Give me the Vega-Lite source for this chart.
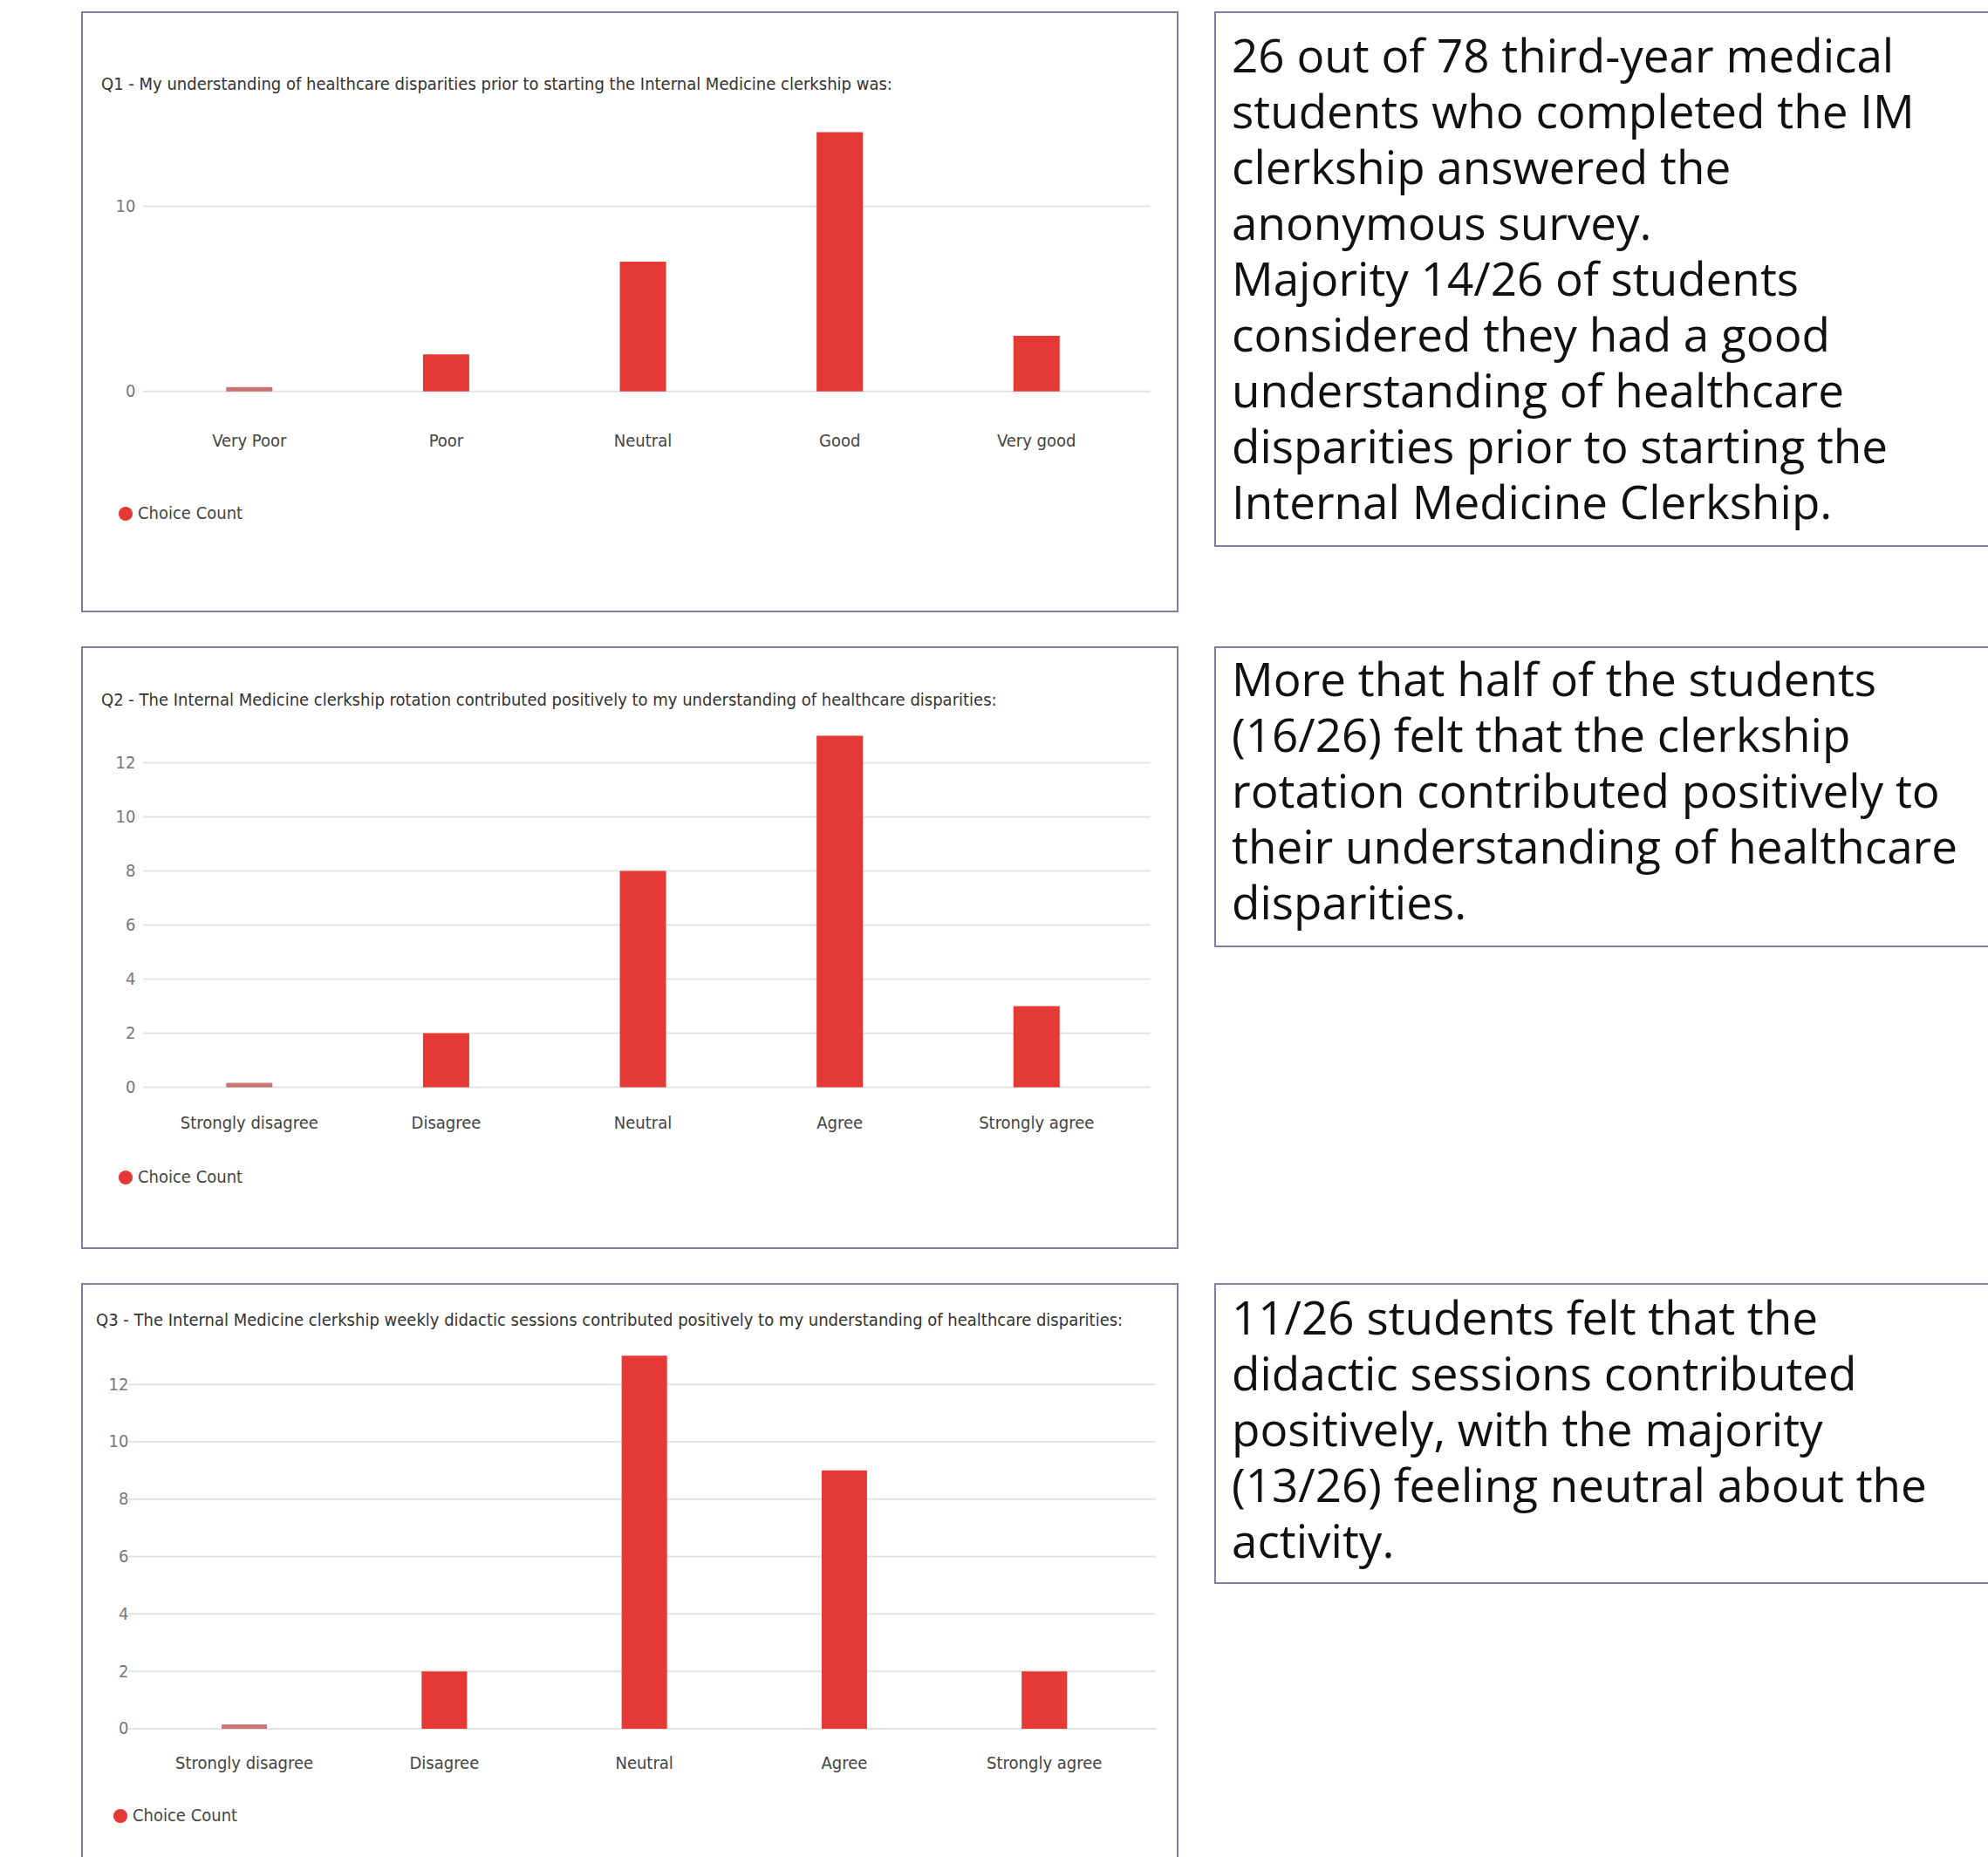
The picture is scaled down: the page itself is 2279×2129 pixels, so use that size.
{
  "$schema": "https://vega.github.io/schema/vega-lite/v6.json",
  "padding": {"left": 93, "top": 13, "right": 0, "bottom": 0},
  "background": "white",
  "columns": 2,
  "spacing": {"row": 41, "column": 43},
  "bounds": "flush",
  "resolve": {"scale": {"color": "independent"}, "legend": {"color": "independent"}},
  "config": {
    "font": "Liberation Sans Narrow, DejaVu Sans Condensed, sans-serif",
    "axis": {"labelFont": "Liberation Sans Narrow, DejaVu Sans Condensed, sans-serif", "domain": false, "ticks": false, "grid": false, "labelPadding": 0},
    "legend": {"labelFont": "Liberation Sans Narrow, DejaVu Sans Condensed, sans-serif"}
  },
  "concat": [
    {
      "width": 1256, "height": 687,
      "view": {"stroke": "#8878a8", "strokeWidth": 2, "fill": "white"},
      "title": {"text": "Q1 - My understanding of healthcare disparities prior to starting the Internal Medicine clerkship was:", "anchor": "start", "frame": "group", "orient": "top", "offset": -103, "baseline": "middle", "dx": 22, "fontSize": 20, "fontWeight": "normal", "color": "#333333"},
      "layer": [
        {
          "data": {"values": [{"v": 0}, {"v": 10}]},
          "mark": {"type": "rule", "color": "#e3e3e3", "strokeWidth": 2},
          "encoding": {
            "x": {"datum": 0, "type": "quantitative", "scale": {"domain": [-0.0606, 1.0268], "nice": false, "zero": false}, "axis": null},
            "x2": {"datum": 1},
            "y": {"field": "v", "type": "quantitative", "scale": {"domain": [-11.89, 20.48], "nice": false, "zero": false}}
          }
        },
        {
          "data": {"values": [
            {"response": "Very Poor", "count": 0},
            {"response": "Poor", "count": 2},
            {"response": "Neutral", "count": 7},
            {"response": "Good", "count": 14},
            {"response": "Very good", "count": 3}
          ]},
          "layer": [
            {
              "transform": [{"filter": "datum.count == 0"}],
              "mark": {"type": "tick", "color": "#b3393a", "thickness": 5, "size": 53, "yOffset": -2.5},
              "encoding": {
                "x": {"field": "response", "type": "nominal", "sort": null, "scale": {"paddingInner": 0.765, "paddingOuter": 0.666, "align": 0.55}},
                "y": {"field": "count", "type": "quantitative", "scale": {"domain": [-11.89, 20.48], "nice": false, "zero": false}}
              }
            },
            {
              "mark": {"type": "bar"},
              "encoding": {
                "x": {"field": "response", "type": "nominal", "sort": null, "scale": {"paddingInner": 0.765, "paddingOuter": 0.666, "align": 0.55},
                  "axis": {"title": null, "orient": "bottom", "offset": -196, "labelAlign": "center", "labelBaseline": "middle", "labelAngle": 0, "labelFontSize": 20, "labelColor": "#444444"}},
                "y": {"field": "count", "type": "quantitative", "scale": {"domain": [-11.89, 20.48], "nice": false, "zero": false},
                  "axis": {"title": null, "values": [0, 10], "offset": -61, "labelFontSize": 20, "labelColor": "#777777"}},
                "color": {"datum": "Choice Count", "scale": {"range": ["#e53935"]},
                  "legend": {"orient": "none", "legendX": 40, "legendY": 565, "title": null, "symbolType": "circle", "symbolSize": 260, "labelFontSize": 20, "labelColor": "#444444"}}
              }
            }
          ]
        }
      ],
      "resolve": {"scale": {"x": "independent"}}
    },
    {
      "width": 887, "height": 612,
      "view": {"stroke": "#8878a8", "strokeWidth": 2, "fill": "white"},
      "data": {"values": [{"note": "26 out of 78 third-year medical\nstudents who completed the IM\nclerkship answered the\nanonymous survey.\nMajority 14/26 of students\nconsidered they had a good\nunderstanding of healthcare\ndisparities prior to starting the\nInternal Medicine Clerkship."}]},
      "mark": {"type": "text", "lineBreak": "\n", "align": "left", "baseline": "line-top", "font": "Open Sans", "fontSize": 53, "lineHeight": 64, "color": "#111111", "dx": 19, "dy": 22},
      "encoding": {
        "text": {"field": "note"},
        "x": {"datum": 0, "type": "quantitative", "scale": {"domain": [0, 1]}, "axis": null},
        "y": {"datum": 1, "type": "quantitative", "scale": {"domain": [0, 1]}, "axis": null}
      }
    },
    {
      "width": 1256, "height": 689,
      "view": {"stroke": "#8878a8", "strokeWidth": 2, "fill": "white"},
      "title": {"text": "Q2 - The Internal Medicine clerkship rotation contributed positively to my understanding of healthcare disparities:", "anchor": "start", "frame": "group", "orient": "top", "offset": -81, "baseline": "middle", "dx": 22, "fontSize": 20, "fontWeight": "normal", "color": "#333333"},
      "layer": [
        {
          "data": {"values": [{"v": 0}, {"v": 2}, {"v": 4}, {"v": 6}, {"v": 8}, {"v": 10}, {"v": 12}]},
          "mark": {"type": "rule", "color": "#e3e3e3", "strokeWidth": 2},
          "encoding": {
            "x": {"datum": 0, "type": "quantitative", "scale": {"domain": [-0.0606, 1.0268], "nice": false, "zero": false}, "axis": null},
            "x2": {"datum": 1},
            "y": {"field": "v", "type": "quantitative", "scale": {"domain": [-5.95, 16.27], "nice": false, "zero": false}}
          }
        },
        {
          "data": {"values": [
            {"response": "Strongly disagree", "count": 0},
            {"response": "Disagree", "count": 2},
            {"response": "Neutral", "count": 8},
            {"response": "Agree", "count": 13},
            {"response": "Strongly agree", "count": 3}
          ]},
          "layer": [
            {
              "transform": [{"filter": "datum.count == 0"}],
              "mark": {"type": "tick", "color": "#b3393a", "thickness": 5, "size": 53, "yOffset": -2.5},
              "encoding": {
                "x": {"field": "response", "type": "nominal", "sort": null, "scale": {"paddingInner": 0.765, "paddingOuter": 0.666, "align": 0.55}},
                "y": {"field": "count", "type": "quantitative", "scale": {"domain": [-5.95, 16.27], "nice": false, "zero": false}}
              }
            },
            {
              "mark": {"type": "bar"},
              "encoding": {
                "x": {"field": "response", "type": "nominal", "sort": null, "scale": {"paddingInner": 0.765, "paddingOuter": 0.666, "align": 0.55},
                  "axis": {"title": null, "orient": "bottom", "offset": -144, "labelAlign": "center", "labelBaseline": "middle", "labelAngle": 0, "labelFontSize": 20, "labelColor": "#444444"}},
                "y": {"field": "count", "type": "quantitative", "scale": {"domain": [-5.95, 16.27], "nice": false, "zero": false},
                  "axis": {"title": null, "values": [0, 2, 4, 6, 8, 10, 12], "offset": -61, "labelFontSize": 20, "labelColor": "#777777"}},
                "color": {"datum": "Choice Count", "scale": {"range": ["#e53935"]},
                  "legend": {"orient": "none", "legendX": 40, "legendY": 598, "title": null, "symbolType": "circle", "symbolSize": 260, "labelFontSize": 20, "labelColor": "#444444"}}
              }
            }
          ]
        }
      ],
      "resolve": {"scale": {"x": "independent"}}
    },
    {
      "width": 887, "height": 343,
      "view": {"stroke": "#8878a8", "strokeWidth": 2, "fill": "white"},
      "data": {"values": [{"note": "More that half of the students\n(16/26) felt that the clerkship\nrotation contributed positively to\ntheir understanding of healthcare\ndisparities."}]},
      "mark": {"type": "text", "lineBreak": "\n", "align": "left", "baseline": "line-top", "font": "Open Sans", "fontSize": 53, "lineHeight": 64, "color": "#111111", "dx": 19, "dy": 9},
      "encoding": {
        "text": {"field": "note"},
        "x": {"datum": 0, "type": "quantitative", "scale": {"domain": [0, 1]}, "axis": null},
        "y": {"datum": 1, "type": "quantitative", "scale": {"domain": [0, 1]}, "axis": null}
      }
    },
    {
      "width": 1256, "height": 658,
      "view": {"stroke": "#8878a8", "strokeWidth": 2, "fill": "white"},
      "title": {"text": "Q3 - The Internal Medicine clerkship weekly didactic sessions contributed positively to my understanding of healthcare disparities:", "anchor": "start", "frame": "group", "orient": "top", "offset": -62, "baseline": "middle", "dx": 16, "fontSize": 20, "fontWeight": "normal", "color": "#333333"},
      "layer": [
        {
          "data": {"values": [{"v": 0}, {"v": 2}, {"v": 4}, {"v": 6}, {"v": 8}, {"v": 10}, {"v": 12}]},
          "mark": {"type": "rule", "color": "#e3e3e3", "strokeWidth": 2},
          "encoding": {
            "x": {"datum": 0, "type": "quantitative", "scale": {"domain": [-0.045, 1.0213], "nice": false, "zero": false}, "axis": null},
            "x2": {"datum": 1},
            "y": {"field": "v", "type": "quantitative", "scale": {"domain": [-4.5, 15.5], "nice": false, "zero": false}}
          }
        },
        {
          "data": {"values": [
            {"response": "Strongly disagree", "count": 0},
            {"response": "Disagree", "count": 2},
            {"response": "Neutral", "count": 13},
            {"response": "Agree", "count": 9},
            {"response": "Strongly agree", "count": 2}
          ]},
          "layer": [
            {
              "transform": [{"filter": "datum.count == 0"}],
              "mark": {"type": "tick", "color": "#b3393a", "thickness": 5, "size": 52, "yOffset": -2.5},
              "encoding": {
                "x": {"field": "response", "type": "nominal", "sort": null, "scale": {"paddingInner": 0.773, "paddingOuter": 0.6254, "align": 0.558}},
                "y": {"field": "count", "type": "quantitative", "scale": {"domain": [-4.5, 15.5], "nice": false, "zero": false}}
              }
            },
            {
              "mark": {"type": "bar"},
              "encoding": {
                "x": {"field": "response", "type": "nominal", "sort": null, "scale": {"paddingInner": 0.773, "paddingOuter": 0.6254, "align": 0.558},
                  "axis": {"title": null, "orient": "bottom", "offset": -109, "labelAlign": "center", "labelBaseline": "middle", "labelAngle": 0, "labelFontSize": 20, "labelColor": "#444444"}},
                "y": {"field": "count", "type": "quantitative", "scale": {"domain": [-4.5, 15.5], "nice": false, "zero": false},
                  "axis": {"title": null, "values": [0, 2, 4, 6, 8, 10, 12], "offset": -53, "labelFontSize": 20, "labelColor": "#777777"}},
                "color": {"datum": "Choice Count", "scale": {"range": ["#e53935"]},
                  "legend": {"orient": "none", "legendX": 34, "legendY": 600, "title": null, "symbolType": "circle", "symbolSize": 260, "labelFontSize": 20, "labelColor": "#444444"}}
              }
            }
          ]
        }
      ],
      "resolve": {"scale": {"x": "independent"}}
    },
    {
      "width": 887, "height": 343,
      "view": {"stroke": "#8878a8", "strokeWidth": 2, "fill": "white"},
      "data": {"values": [{"note": "11/26 students felt that the\ndidactic sessions contributed\npositively, with the majority\n(13/26) feeling neutral about the\nactivity."}]},
      "mark": {"type": "text", "lineBreak": "\n", "align": "left", "baseline": "line-top", "font": "Open Sans", "fontSize": 53, "lineHeight": 64, "color": "#111111", "dx": 19, "dy": 11},
      "encoding": {
        "text": {"field": "note"},
        "x": {"datum": 0, "type": "quantitative", "scale": {"domain": [0, 1]}, "axis": null},
        "y": {"datum": 1, "type": "quantitative", "scale": {"domain": [0, 1]}, "axis": null}
      }
    }
  ]
}
